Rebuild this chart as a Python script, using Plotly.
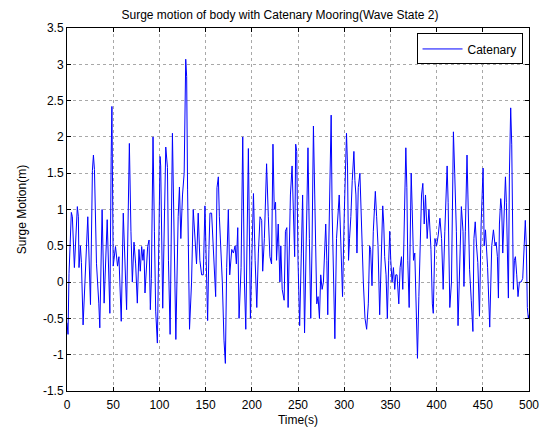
import plotly.graph_objects as go

# Time (s) of read-off points
time_s = [0, 1.1, 2.2, 4.7, 5.8, 6.5, 8, 11.2, 12.3, 13, 14.5, 15.6, 16.7, 17.4, 22.5, 25.4, 27.5, 28.6, 29.7, 31.9,
          34.4, 35.5, 38, 40.2, 43.5, 46.4, 47.8, 48.6, 50, 52.5, 54.7, 56.2, 58.7, 60.9, 64.5, 67.5,
          69.2, 70.7, 72.5, 74.3, 76.1, 77.9, 79.3, 80.8, 82.2, 83.3, 84.4, 85.9, 87.3, 88.8, 90.2, 91.3, 93.1, 94.6,
          96, 97.8, 100.7, 101.4, 102.5, 103.6, 106.9, 108.7, 109.8, 111.6, 114.1, 115.9, 117.8, 120.3, 121.7, 123.2,
          125, 126.8, 128.5, 129.5, 130.5, 132.6,
          134.8, 136.6, 138.4, 140.2, 142, 143.8, 145.7, 147.5, 149.3, 151.1, 152.2, 153.6, 154.7, 156.5, 157.6, 159.4,
          160.9, 162.3, 163.8, 164.9, 166.3, 168.1, 169.9, 171.4, 172.8, 174.6, 176.1, 178.3, 180.1, 181.9, 183.3, 184.8,
          186.2, 188.4, 190.2, 192, 193.5, 196.3, 197.3, 198.5,
          200, 201.8, 203.6, 205.4, 207.1, 208.9, 210.7, 211.8, 213.6, 215, 216, 217.9, 219.6, 221.4, 222.9, 224.3,
          225.7, 226.8, 228.6, 230.4, 231.4, 232.9, 235, 236.4, 237.9, 239.3, 241.8, 243.6, 245, 246.4, 247.5, 248.6,
          250, 251.8, 253.6, 255, 257.1, 259.3, 260.8,
          262.3, 263.8, 265.2, 266.7, 268.1, 269.2, 270.3, 271.7, 273.2, 274.6, 276.1, 277.5, 279, 280, 281.2, 282.2,
          283.3, 284.8, 285.9, 286.9, 288.4, 289.9, 291.7, 293.5, 294.6, 295.7, 297.1, 298.2, 300, 301.4, 302.5, 303.6,
          304.7, 305.8, 307.2, 308.7, 310.5, 311.6, 312.7, 313.8, 315.2, 317, 318.1, 319.6, 320.7, 322.5, 324.3, 326.1,
          327.5, 328.6, 330.1, 331.5, 333.7, 335.1, 336.6, 338.4, 340.2, 341.7, 342.8, 343.8, 345.3, 346.7, 348.2, 349.3,
          350.4, 351.8, 353.3, 354.7, 355.8, 357.2, 359.1, 360.5, 362, 363.4, 364.5, 365.6, 366.7, 367.8, 368.8, 370.3,
          371.4, 372.5, 373.6, 375, 376.4, 377.9, 379.3, 380.8, 382.2, 383.7, 385.1, 386.6, 388, 389.8, 391.7,
          393.9, 395.4, 396.4, 398.2, 400, 401.8, 403.6, 405.4, 407.1, 408.9, 410, 411.4, 412.5, 414.3, 416.1, 418.2,
          419.6, 421.4, 423.2, 425, 426.8, 428.6, 429.6, 431.1, 432.9, 433.9, 435.7, 437.5, 439.3, 440.4, 441.8, 443.2,
          444.6, 446.4, 448.2, 450.3, 451.5, 452.9, 454, 455.2, 457.5,
          459.7, 461.5, 463.3, 464.4, 465.8, 466.9, 468, 469.4, 470.5, 471.6, 473, 474.5, 475.5, 476.6, 477.7, 478.8,
          480.2, 481.3, 482.4, 483.1, 484.2, 485.3, 486.7, 488.1, 489.6, 491.4, 493.2, 495, 496, 497.1, 498.2, 499.3, 500]

# Surge motion (m)
surge_m = [-0.56, -0.72, 0.12, 0.96, 0.9, 0.72, 0.2, 1.04, 0.9, 0.2, 0.5, 0.27, -0.33, -0.59, 0.9, -0.31, 1.54, 1.75, 1.55, 0.26,
           -0.29, -0.63, 1.0, -0.29, 0.86, -0.43, 1.73, 2.42, 0.22, 0.49, 0.22, 0.35, -0.54, 0.95, -0.38, 1.91,
           0.7, 0.0, 0.55, 0.25, -0.29, 0.45, 0.15, 0.49, 0.3, 0.45, -0.15, 0.26, 0.49, 0.58, -0.38, 0.05, 2.0, 0.7,
           -0.4, -0.84, 1.73, 1.6, 0.6, -0.36, 1.86, 1.58, 0.3, -0.72, 2.05, 0.5, -0.79, 0.9, 1.31, 0.6,
           1.2, 1.5, 3.07, 2.83, 1.27, -0.65,
           0.0, 1.0, 0.55, 0.25, 0.95, 0.3, 0.1, 0.1, 1.05, 0.0, -0.53, 0.45, 0.95, 0.95, 0.7, 0.3,
           -0.2, 1.3, 1.45, 0.9, 0.5, 0.0, -0.8, -1.12, 0.2, 1.0, 0.1, 0.45, 0.4, 0.5, 0.25, 0.75,
           -0.5, 0.2, 2.0, 0.0, -0.65, 1.84, 0.8, -0.5,
           0.3, 1.22, 0.3, -0.35, 0.4, 0.9, 0.85, 0.15, 0.6, 1.5, 1.63, 0.9, 0.35, 0.25, 1.9, 1.0,
           1.1, 0.3, 0.8, 0.0, 0.5, -0.1, -0.25, 0.7, 0.75, -0.35, 1.2, 1.6, 1.0, 0.35, 1.9, 1.8,
           0.3, -0.6, 0.4, 1.2, -0.7, 0.8, 1.85,
           0.6, -0.5, 0.5, 2.15, 1.2, 0.2, -0.3, -0.2, -0.5, 0.1, -0.1, 0.0, 0.7, 0.8, 0.3, -0.45,
           0.5, 1.75, 2.3, 1.0, -0.1, -0.78, 0.6, 1.0, 1.2, 0.8, 0.1, -0.2, 0.9, 1.45, 2.05, 1.6,
           0.3, 0.6, 0.9, 1.4, 1.8, 1.4, 1.2, 0.4, 1.3, 1.5, 1.0, 0.2, 0.0, -0.5, -0.65, -0.3,
           0.5, 0.45, -0.05, 0.7, 1.25, 0.9, 0.5, -0.45, 0.4, 1.05, 0.8, 0.35, 0.1, -0.5, 0.3, 0.7,
           0.3, 0.0, 0.2, -0.1, 0.1, 0.1, -0.3, 0.2, 0.35, -0.1, 0.5, 1.5, 1.85, 1.3, 0.3, -0.35,
           0.5, 1.5, 1.0, 0.3, 0.4, -0.3, -1.05, -0.2, 0.7, 1.2, 1.36, 0.8, 1.2, 0.6, 1.0,
           0.45, -0.3, -0.43, 0.6, 0.5, 0.65, 0.88, 0.6, -0.1, 0.7, 1.08, 1.6, 1.1, -0.35, 0.0, 2.07,
           1.5, 0.7, -0.6, 0.3, 1.04, 0.7, -0.06, 0.7, 1.75, 1.2, 0.17, -0.25, -0.68, 0.6, 0.83, 0.5,
           0.27, -0.47, 0.8, 1.57, 0.5, 0.72, 0.5, 0.2, -0.62,
           0.5, 0.72, 0.5, 0.55, 0.35, -0.22, 0.8, 1.15, 1.0, 0.4, 1.0, 1.45, 1.1, 0.5, -0.22, 1.5,
           2.4, 1.9, 0.5, -0.1, 0.3, 0.35, 0.1, -0.2, 0.0, 0.0, 0.05, 0.5, 0.85, 0.5, -0.35, -0.5, -0.45]

x_ticks = [0, 50, 100, 150, 200, 250, 300, 350, 400, 450, 500]
x_tick_labels = ["0", "50", "100", "150", "200", "250", "300", "350", "400", "450", "500"]
y_ticks = [-1.5, -1, -0.5, 0, 0.5, 1, 1.5, 2, 2.5, 3, 3.5]
y_tick_labels = ["-1.5", "-1", "-0.5", "0", "0.5", "1", "1.5", "2", "2.5", "3", "3.5"]

font_family = "Liberation Sans, Arial, sans-serif"

fig = go.Figure()
fig.add_trace(go.Scatter(
    x=time_s, y=surge_m, mode="lines", name="Catenary",
    line=dict(color="#0000FF", width=1),
))

axis_common = dict(
    showline=True, linecolor="black", linewidth=1, mirror="ticks",
    ticks="inside", ticklen=4, tickcolor="black", tickwidth=1,
    showgrid=True, gridcolor="#a8a8a8", griddash="dot", gridwidth=1,
    zeroline=False, automargin=False,
    tickfont=dict(family=font_family, size=12, color="black"),
)

fig.update_layout(
    width=544, height=426,
    paper_bgcolor="white", plot_bgcolor="white",
    margin=dict(l=59, r=23, t=20, b=43, autoexpand=False),
    font=dict(family=font_family, size=12, color="black"),
    title=dict(text="Surge motion of body with Catenary Mooring(Wave State 2)",
               x=0.5, xanchor="center", y=1.0, yanchor="top", pad=dict(t=3, b=0, l=0, r=0),
               automargin=False,
               font=dict(family=font_family, size=12, color="black")),
    xaxis=dict(range=[0, 500], tickvals=x_ticks, ticktext=x_tick_labels, ticklabelstandoff=3,
               title=dict(text="Time(s)", standoff=4, font=dict(size=12)), **axis_common),
    yaxis=dict(range=[-1.5, 3.5], tickvals=y_ticks, ticktext=y_tick_labels,
               title=dict(text="Surge Motion(m)", standoff=13, font=dict(size=12)), **axis_common),
    showlegend=True,
    legend=dict(x=0.986, xanchor="right", y=0.985, yanchor="top",
                bgcolor="white", bordercolor="black", borderwidth=1,
                font=dict(family=font_family, size=12, color="black"),
                itemwidth=40, tracegroupgap=0),
)

fig.write_html("out.html")
